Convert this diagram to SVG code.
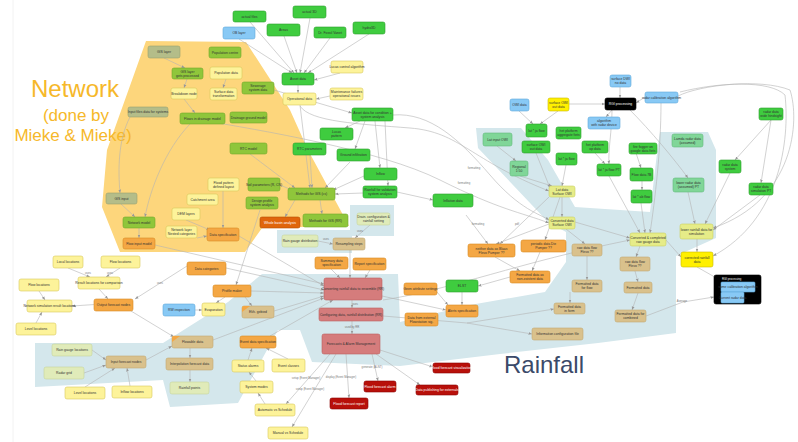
<svg xmlns="http://www.w3.org/2000/svg" width="798" height="442" viewBox="0 0 798 442">
<defs>
<marker id="a" markerWidth="4" markerHeight="4" refX="3.5" refY="2" orient="auto" markerUnits="userSpaceOnUse"><path d="M0,0.6 L3.5,2 L0,3.4 z" fill="#999"/></marker>
<style>
text{font-family:"Liberation Sans",Arial,sans-serif;font-size:3.4px;fill:#333;text-anchor:middle}
.n rect{stroke-width:0.6}
.g rect{fill:#3fcc3f;stroke:#2b9e2b}
.b rect{fill:#88c9f5;stroke:#5ea8da}
.y rect{fill:#fdf39a;stroke:#d9c95c}
.Y rect{fill:#fff000;stroke:#c9bb00}
.o rect{fill:#f4a744;stroke:#d98b22}
.O rect{fill:#e0650c;stroke:#b54e00}
.t rect{fill:#d9c18c;stroke:#c2a972}
.p rect{fill:#d57c7c;stroke:#be6060}
.r rect{fill:#b8100a;stroke:#8a0000}
.l rect{fill:#e0ebb9;stroke:#c6d59c}
.v rect{fill:#8fc63b;stroke:#72a82a}
.q rect{fill:#b4bd89;stroke:#99a171}
.c rect{fill:#80d698;stroke:#63bb7d}
.h rect{fill:#e6ec88;stroke:#cbd262}
.k rect{fill:#000;stroke:#000}
.r text,.k text,.O text{fill:#fff}
#edges path{fill:none;stroke:#b3b3b3;stroke-width:0.6;marker-end:url(#a)}
.el{font-size:2.8px;fill:#777}
.big{font-family:"Liberation Sans",Arial,sans-serif;text-anchor:middle}
</style>
</defs>
<rect width="798" height="442" fill="#fff"/>
<line x1="13" y1="0" x2="13" y2="442" stroke="#f2f2f2" stroke-width="1"/>
<g id="regions">
<polygon points="146,41 246,42 290,110 308,150 349,226 262,228 245,252 120,252 102,207 107,150" fill="#fdd67c"/>
<polygon points="277,230 350,230 350,205 394,205 394,236 352,236 352,253 277,253" fill="#d4e7ec"/>
<polygon points="35,343 163,343 228,302 262,274 398,274 400,322 470,305 545,292 566,262 566,232 548,222 478,148 476,128 521,128 548,160 575,207 650,212 658,145 660,132 708,132 716,150 716,238 676,256 676,333 598,343 500,354 400,366 312,362 300,330 278,330 238,403 170,407 163,380 35,387" fill="#d4e7ec"/>
</g>
<g id="titles">
<text class="big" x="75" y="97" style="font-size:24px;fill:#f6b82a">Network</text>
<text class="big" x="76" y="121" style="font-size:17px;fill:#f6b82a">(done by</text>
<text class="big" x="73" y="141" style="font-size:17px;fill:#f6b82a">Mieke &amp; Mieke)</text>
<text class="big" x="544" y="373" style="font-size:24px;fill:#3b4a69">Rainfall</text>
</g>
<g id="edges">
<path d="M239,39 L292,73"/><path d="M250,22 L294,73"/><path d="M284,36 L297,73"/><path d="M310,18 L300,73"/><path d="M330,38 L304,73"/><path d="M369,34 L308,73"/>
<path d="M340,73 L314,80"/><path d="M298,85 L298,93"/><path d="M330,96 L316,99"/>
<path d="M300,105 L310,188"/><path d="M274,90 L352,113"/>
<path d="M360,121 L345,128"/><path d="M365,121 L355,149"/><path d="M375,121 L380,168"/><path d="M385,121 L388,186"/>
<path d="M393,115 C430,112 460,140 490,175 S540,214 549,220"/>
<path d="M300,106 C310,122 360,124 410,128 S470,160 549,191"/>
<path d="M200,120 C260,130 380,150 440,180 S520,212 549,223"/>
<path d="M310,155 L312,188"/><path d="M350,162 L325,188"/><path d="M364,176 L333,190"/><path d="M363,193 L335,194"/><path d="M280,185 L292,190"/><path d="M250,154 L295,188"/>
<path d="M295,200 L285,217"/><path d="M320,200 L322,214"/>
<path d="M164,58 L185,68"/><path d="M187,79 L184,88"/><path d="M184,99 L195,113"/><path d="M226,79 L223,88"/>
<path d="M130,117 C118,140 118,170 120,193"/><path d="M121,204 L135,217"/><path d="M139,228 L139,238"/>
<path d="M190,124 C165,150 150,190 145,217"/>
<path d="M223,191 L223,228"/><path d="M186,220 L210,230"/><path d="M197,238 L207,236"/>
<path d="M239,236 L324,286"/><path d="M226,268 L324,290"/><path d="M251,291 L324,293"/><path d="M155,245 L324,284"/>
<path d="M260,210 L236,285"/>
<path d="M225,297 L216,303"/><path d="M245,297 L252,306"/>
<path d="M274,311 L324,296"/>
<path d="M318,241 L333,244"/><path d="M370,225 L355,238"/><path d="M350,250 L350,278"/>
<path d="M331,269 L340,278"/><path d="M370,270 L365,278"/>
<path d="M352,300 L352,308"/><path d="M352,321 L352,334"/>
<path d="M372,354 L378,381"/><path d="M346,354 L349,398"/><path d="M330,354 L286,404"/><path d="M336,354 L292,427"/>
<path d="M380,350 L433,367"/><path d="M376,354 L420,385"/>
<path d="M270,336 L333,300"/><path d="M248,360 L252,348"/><path d="M288,359 L266,348"/><path d="M256,381 L249,372"/><path d="M265,404 L258,393"/>
<path d="M382,296 L446,310"/><path d="M437,292 L448,305"/><path d="M462,292 L462,305"/>
<path d="M383,316 L467,323 L554,309"/><path d="M467,323 L532,334"/>
<path d="M383,300 C450,290 520,262 630,240"/>
<path d="M510,277 L478,286"/><path d="M466,215 L488,244"/><path d="M549,197 L500,244"/><path d="M549,224 L496,244"/>
<path d="M560,197 L545,240"/><path d="M540,252 L532,271"/><path d="M495,257 L520,271"/>
<path d="M566,229 L585,244"/><path d="M587,256 L587,280"/><path d="M570,292 L570,303"/>
<path d="M575,222 L630,238"/>
<path d="M640,246 L636,257"/><path d="M635,271 L638,282"/><path d="M638,293 L632,310"/><path d="M646,316 L683,302 L714,297"/>
<path d="M133,302 L72,306"/><path d="M99,289 L108,299"/><path d="M36,323 L42,312"/><path d="M39,291 L45,300"/>
<path d="M68,268 L90,277"/><path d="M120,268 L106,277"/>
<path d="M131,311 L174,337"/><path d="M190,348 L190,358"/><path d="M190,370 L190,382"/>
<path d="M187,266 L135,299"/><path d="M213,340 L324,298"/>
<path d="M92,350 L106,360"/><path d="M84,373 L106,365"/><path d="M85,387 L115,368"/><path d="M130,386 L127,368"/><path d="M146,360 L172,346"/>
<path d="M195,310 L202,310"/>
<path d="M397,192 L433,200"/>
<path d="M519,111 L533,124"/><path d="M558,111 L540,124"/><path d="M569,104 L605,104"/>
<path d="M620,87 L620,98"/><path d="M645,97 L636,103"/><path d="M612,110 L606,117"/>
<path d="M612,110 C612,130 608,150 609,164"/><path d="M630,110 C650,130 675,160 688,178"/>
<path d="M661,103 C661,150 655,200 650,233"/>
<path d="M678,96 C700,85 760,78 790,90 C800,120 795,200 713,228"/>
<path d="M680,92 C720,82 770,80 785,95 C790,140 780,220 713,256"/>
<path d="M609,176 L640,233"/><path d="M641,203 L645,233"/><path d="M688,192 L695,224"/><path d="M730,173 L705,224"/><path d="M760,195 L713,230"/>
<path d="M771,120 L735,160"/><path d="M771,120 L761,183"/><path d="M697,239 L697,252"/><path d="M666,240 L681,257"/><path d="M697,267 L720,280"/>
<path d="M636,153 L641,168"/><path d="M595,153 L605,164"/><path d="M642,181 L642,190"/>
<path d="M497,146 L516,161"/><path d="M520,176 L552,186"/><path d="M562,197 L562,217"/>
<path d="M536,153 L550,188"/><path d="M566,165 L562,186"/>
</g>
<g id="edge-labels">
<text class="el" x="474" y="169">formatting</text>
<text class="el" x="464" y="184">formatting</text>
<text class="el" x="478" y="225">formatting</text>
<text class="el" x="517" y="225">pdf</text>
<text class="el" x="355" y="305">uses</text>
<text class="el" x="352" y="328">used by RR</text>
<text class="el" x="372" y="368">generate (ALNT)</text>
<text class="el" x="341" y="378">display (Event Manager)</text>
<text class="el" x="306" y="379">setup (Event Manager)</text>
<text class="el" x="310" y="390">setup (Event Manager)</text>
<text class="el" x="326" y="239.5">uses</text>
<text class="el" x="360" y="232">uses</text>
<text class="el" x="682" y="302">Average</text>
<text class="el" x="88" y="274">uses</text>
<text class="el" x="110" y="274">uses</text>
<text class="el" x="160" y="284">uses</text>
</g>
<g id="n1" class="n g"><rect x="233" y="11" width="33" height="11" rx="2"/><text x="249.5" y="17.8">actual files</text></g>
<g id="n2" class="n g"><rect x="293" y="6" width="33" height="12" rx="2"/><text x="309.5" y="13.3">actual 3D</text></g>
<g id="n3" class="n b"><rect x="223" y="27" width="32" height="12" rx="2"/><text x="239" y="34.3">OB layer</text></g>
<g id="n4" class="n g"><rect x="267" y="24" width="33" height="12" rx="2"/><text x="283.5" y="31.3">Areas</text></g>
<g id="n5" class="n g"><rect x="314" y="27" width="32" height="11" rx="2"/><text x="330" y="33.8">Dr. Fossil Vanet</text></g>
<g id="n6" class="n g"><rect x="353" y="22" width="32" height="12" rx="2"/><text x="369" y="29.3">hydro3D</text></g>
<g id="n7" class="n g"><rect x="282" y="73" width="32" height="12" rx="2"/><text x="298" y="80.3">Asset data</text></g>
<g id="n8" class="n y"><rect x="331" y="61" width="32" height="12" rx="2"/><text x="347" y="68.3">Lucas control algorithm</text></g>
<g id="n9" class="n y"><rect x="283" y="93" width="33" height="12" rx="2"/><text x="299.5" y="100.3">Operational data</text></g>
<g id="n10" class="n y"><rect x="330" y="88" width="33" height="12" rx="2"/><text x="346.5" y="93.4">Maintenance failures</text><text x="346.5" y="97.4">operational issues</text></g>
<g id="n11" class="n g"><rect x="352" y="108" width="41" height="13" rx="2"/><text x="372.5" y="113.9">Asset data for condition +</text><text x="372.5" y="117.9">system analysis</text></g>
<g id="n12" class="n g"><rect x="320" y="128" width="33" height="12" rx="2"/><text x="336.5" y="133.4">Lucas</text><text x="336.5" y="137.4">pattern</text></g>
<g id="n13" class="n g"><rect x="293" y="143" width="33" height="12" rx="2"/><text x="309.5" y="150.3">RTC parameters</text></g>
<g id="n14" class="n g"><rect x="337" y="149" width="33" height="12" rx="2"/><text x="353.5" y="156.3">Ground infiltration</text></g>
<g id="n15" class="n g"><rect x="364" y="168" width="33" height="12" rx="2"/><text x="380.5" y="175.3">Inflow</text></g>
<g id="n16" class="n g"><rect x="363" y="186" width="34" height="12" rx="2"/><text x="380" y="191.4">Rainfall for validation</text><text x="380" y="195.4">system analysis</text></g>
<g id="n17" class="n q"><rect x="148" y="46" width="32" height="12" rx="2"/><text x="164" y="53.3">GIS layer</text></g>
<g id="n18" class="n v"><rect x="209" y="47" width="32" height="11" rx="2"/><text x="225" y="53.8">Population centre</text></g>
<g id="n19" class="n v"><rect x="172" y="68" width="31" height="11" rx="2"/><text x="187.5" y="72.6">GIS layer</text><text x="187.5" y="76.6">gets processed</text></g>
<g id="n20" class="n y"><rect x="210" y="67" width="32" height="12" rx="2"/><text x="226" y="74.3">Population data</text></g>
<g id="n21" class="n y"><rect x="171" y="88" width="26" height="11" rx="2"/><text x="184" y="94.8">Breakdown node</text></g>
<g id="n22" class="n y"><rect x="210" y="88" width="27" height="12" rx="2"/><text x="223.5" y="93.4">Surface data</text><text x="223.5" y="97.4">transformation</text></g>
<g id="n23" class="n v"><rect x="242" y="82" width="32" height="12" rx="2"/><text x="258" y="87.4">Sewerage</text><text x="258" y="91.4">system data</text></g>
<g id="n24" class="n q"><rect x="128" y="107" width="40" height="10" rx="2"/><text x="148" y="113.3">Input files data for systems</text></g>
<g id="n25" class="n v"><rect x="180" y="113" width="45" height="11" rx="2"/><text x="202.5" y="119.8">Flows in drainage model</text></g>
<g id="n26" class="n v"><rect x="230" y="112" width="37" height="11" rx="2"/><text x="248.5" y="118.8">Drainage ground model</text></g>
<g id="n27" class="n v"><rect x="230" y="143" width="37" height="11" rx="2"/><text x="248.5" y="149.8">RTC model</text></g>
<g id="n28" class="n y"><rect x="187" y="194" width="31" height="11" rx="2"/><text x="202.5" y="200.8">Catchment area</text></g>
<g id="n29" class="n y"><rect x="172" y="208" width="28" height="12" rx="2"/><text x="186" y="215.3">DEM layers</text></g>
<g id="n30" class="n y"><rect x="166" y="226" width="31" height="12" rx="2"/><text x="181.5" y="231.4">Network layer</text><text x="181.5" y="235.4">Nested categories</text></g>
<g id="n31" class="n y"><rect x="208" y="178" width="31" height="13" rx="2"/><text x="223.5" y="183.9">Flood pattern</text><text x="223.5" y="187.9">defined layout</text></g>
<g id="n32" class="n v"><rect x="248" y="178" width="32" height="13" rx="2"/><text x="264" y="185.8">Soil parameters (R, CN)</text></g>
<g id="n33" class="n v"><rect x="288" y="188" width="47" height="12" rx="2"/><text x="311.5" y="195.3">Methods for GIS (cs)</text></g>
<g id="n34" class="n v"><rect x="246" y="197" width="32" height="12" rx="2"/><text x="262" y="202.4">Design profile</text><text x="262" y="206.4">system analysis</text></g>
<g id="n35" class="n O"><rect x="260" y="217" width="40" height="11" rx="2"/><text x="280" y="223.8">Whole basin analysis</text></g>
<g id="n36" class="n v"><rect x="303" y="214" width="45" height="13" rx="2"/><text x="325.5" y="221.8">Methods for GIS (RR)</text></g>
<g id="n37" class="n o"><rect x="207" y="228" width="32" height="13" rx="2"/><text x="223" y="235.8">Data specification</text></g>
<g id="n38" class="n q"><rect x="106" y="193" width="31" height="11" rx="2"/><text x="121.5" y="199.8">GIS input</text></g>
<g id="n39" class="n v"><rect x="123" y="217" width="32" height="11" rx="2"/><text x="139" y="223.8">Network model</text></g>
<g id="n40" class="n o"><rect x="123" y="238" width="32" height="11" rx="2"/><text x="139" y="244.8">Flow input model</text></g>
<g id="n41" class="n l"><rect x="357" y="213" width="33" height="12" rx="2"/><text x="373.5" y="218.4">Drain. configuration &amp;</text><text x="373.5" y="222.4">rainfall setting</text></g>
<g id="n42" class="n l"><rect x="282" y="235" width="36" height="12" rx="2"/><text x="300" y="242.3">Rain gauge distribution</text></g>
<g id="n43" class="n t"><rect x="333" y="238" width="32" height="12" rx="2"/><text x="349" y="245.3">Resampling steps</text></g>
<g id="n44" class="n o"><rect x="315" y="257" width="33" height="12" rx="2"/><text x="331.5" y="262.4">Summary data</text><text x="331.5" y="266.4">specification</text></g>
<g id="n45" class="n o"><rect x="353" y="258" width="33" height="12" rx="2"/><text x="369.5" y="265.3">Report specification</text></g>
<g id="n46" class="n o"><rect x="187" y="262" width="39" height="13" rx="2"/><text x="206.5" y="269.8">Data categories</text></g>
<g id="n47" class="n o"><rect x="213" y="285" width="38" height="12" rx="2"/><text x="232" y="292.3">Profile maker</text></g>
<g id="n48" class="n p"><rect x="324" y="278" width="58" height="22" rx="2"/><text x="353" y="290.3">Converting rainfall data to ensemble (RR)</text></g>
<g id="n49" class="n p"><rect x="319" y="308" width="64" height="13" rx="2"/><text x="351" y="315.8">Configuring data, rainfall distribution (RR)</text></g>
<g id="n50" class="n p"><rect x="322" y="334" width="58" height="20" rx="2"/><text x="351" y="345.3">Forecasts &amp; Alarm Management</text></g>
<g id="n51" class="n r"><rect x="364" y="381" width="32" height="11" rx="2"/><text x="380" y="387.8">Flood forecast alarm</text></g>
<g id="n52" class="n r"><rect x="330" y="398" width="38" height="11" rx="2"/><text x="349" y="404.8">Flood forecast report</text></g>
<g id="n53" class="n r"><rect x="433" y="363" width="37" height="10" rx="2"/><text x="451.5" y="369.3">Flood forecast visualization</text></g>
<g id="n54" class="n r"><rect x="416" y="385" width="42" height="10" rx="2"/><text x="437" y="391.3">Data publishing for externals</text></g>
<g id="n55" class="n y"><rect x="202" y="303" width="23" height="13" rx="2"/><text x="213.5" y="310.8">Evaporation</text></g>
<g id="n56" class="n t"><rect x="242" y="306" width="32" height="12" rx="2"/><path d="M244,306 h6 l-8,6 v-4 a2,2 0 0 1 2,-2z" fill="#f4a744"/><text x="258" y="313.3">Ekh. gebied</text></g>
<g id="n57" class="n o"><rect x="240" y="336" width="36" height="12" rx="2"/><text x="258" y="343.3">Event data specification</text></g>
<g id="n58" class="n y"><rect x="232" y="360" width="32" height="12" rx="2"/><text x="248" y="367.3">Status alarms</text></g>
<g id="n59" class="n y"><rect x="272" y="359" width="33" height="13" rx="2"/><text x="288.5" y="366.8">Event classes</text></g>
<g id="n60" class="n y"><rect x="240" y="381" width="33" height="12" rx="2"/><text x="256.5" y="388.3">System modes</text></g>
<g id="n61" class="n y"><rect x="255" y="404" width="40" height="12" rx="2"/><text x="275" y="411.3">Automatic vs Schedule</text></g>
<g id="n62" class="n y"><rect x="268" y="427" width="40" height="12" rx="2"/><text x="288" y="434.3">Manual vs Schedule</text></g>
<g id="n63" class="n y"><rect x="53" y="256" width="30" height="12" rx="2"/><text x="68" y="263.3">Local locations</text></g>
<g id="n64" class="n y"><rect x="101" y="256" width="39" height="12" rx="2"/><text x="120.5" y="263.3">Flow locations</text></g>
<g id="n65" class="n y"><rect x="19" y="279" width="40" height="12" rx="2"/><text x="39" y="286.3">Flow locations</text></g>
<g id="n66" class="n y"><rect x="78" y="277" width="42" height="12" rx="2"/><text x="99" y="284.3">Result locations for comparison</text></g>
<g id="n67" class="n y"><rect x="27" y="300" width="45" height="12" rx="2"/><text x="49.5" y="307.3">Network simulation result locations</text></g>
<g id="n68" class="n o"><rect x="94" y="299" width="39" height="12" rx="2"/><text x="113.5" y="306.3">Output forecast nodes</text></g>
<g id="n69" class="n b"><rect x="163" y="304" width="32" height="12" rx="2"/><text x="179" y="311.3">RW inspection</text></g>
<g id="n70" class="n y"><rect x="16" y="323" width="40" height="12" rx="2"/><text x="36" y="330.3">Level locations</text></g>
<g id="n71" class="n l"><rect x="52" y="344" width="40" height="12" rx="2"/><text x="72" y="351.3">Rain gauge locations</text></g>
<g id="n72" class="n t"><rect x="106" y="356" width="40" height="12" rx="2"/><text x="126" y="363.3">Input forecast nodes</text></g>
<g id="n73" class="n l"><rect x="44" y="367" width="40" height="12" rx="2"/><text x="64" y="374.3">Radar grid</text></g>
<g id="n74" class="n y"><rect x="65" y="387" width="40" height="12" rx="2"/><text x="85" y="394.3">Level locations</text></g>
<g id="n75" class="n y"><rect x="112" y="386" width="40" height="12" rx="2"/><text x="132" y="393.3">Inflow locations</text></g>
<g id="n76" class="n t"><rect x="172" y="336" width="41" height="12" rx="2"/><path d="M174,336 h6 l-8,6 v-4 a2,2 0 0 1 2,-2z" fill="#f4a744"/><text x="192.5" y="343.3">Flowable data</text></g>
<g id="n77" class="n t"><rect x="166" y="358" width="47" height="12" rx="2"/><text x="189.5" y="365.3">Interpolation forecast data</text></g>
<g id="n78" class="n l"><rect x="170" y="382" width="39" height="12" rx="2"/><text x="189.5" y="389.3">Rainfall points</text></g>
<g id="n79" class="n o"><rect x="404" y="283" width="33" height="12" rx="2"/><text x="420.5" y="290.3">Geen attribute settings</text></g>
<g id="n80" class="n g"><rect x="446" y="280" width="32" height="12" rx="2"/><text x="462" y="287.3">ELST</text></g>
<g id="n81" class="n o"><rect x="446" y="305" width="32" height="12" rx="2"/><text x="462" y="312.3">Alerts specification</text></g>
<g id="n82" class="n o"><rect x="405" y="313" width="33" height="13" rx="2"/><text x="421.5" y="318.9">Data from external</text><text x="421.5" y="322.9">Flowstation sig.</text></g>
<g id="n83" class="n t"><rect x="532" y="328" width="51" height="12" rx="2"/><text x="557.5" y="335.3">Information configuration file</text></g>
<g id="n84" class="n t"><rect x="554" y="303" width="31" height="11" rx="2"/><text x="569.5" y="307.9">Formatted data</text><text x="569.5" y="311.9">in form</text></g>
<g id="n85" class="n o"><rect x="510" y="271" width="40" height="12" rx="2"/><text x="530" y="276.4">Formatted data as</text><text x="530" y="280.4">non-existent data</text></g>
<g id="n86" class="n t"><rect x="572" y="280" width="30" height="12" rx="2"/><text x="587" y="285.4">Formatted data</text><text x="587" y="289.4">for flow</text></g>
<g id="n87" class="n t"><rect x="572" y="244" width="30" height="12" rx="2"/><text x="587" y="249.4">raw data flow</text><text x="587" y="253.4">Flevo ??</text></g>
<g id="n88" class="n o"><rect x="468" y="244" width="47" height="13" rx="2"/><text x="491.5" y="249.9">neither data as Blaas</text><text x="491.5" y="253.9">Flevo Pumper ??</text></g>
<g id="n89" class="n o"><rect x="521" y="240" width="45" height="12" rx="2"/><text x="543.5" y="245.4">periodic data Die</text><text x="543.5" y="249.4">Pumper ??</text></g>
<g id="n90" class="n g"><rect x="433" y="194" width="40" height="13" rx="2"/><text x="453" y="201.8">Inflation data</text></g>
<g id="n91" class="n h"><rect x="549" y="186" width="26" height="11" rx="2"/><text x="562" y="190.6">Lat data</text><text x="562" y="194.6">Surface OWI</text></g>
<g id="n92" class="n h"><rect x="549" y="217" width="26" height="12" rx="2"/><text x="562" y="222.4">Converted data</text><text x="562" y="226.4">Surface OWI</text></g>
<g id="n93" class="n c"><rect x="510" y="161" width="18" height="15" rx="2"/><text x="519" y="167.9">Regional</text><text x="519" y="171.9">1:50</text></g>
<g id="n94" class="n c"><rect x="483" y="133" width="29" height="13" rx="2"/><text x="497.5" y="140.8">Lat input OWI</text></g>
<g id="n95" class="n b"><rect x="510" y="99" width="19" height="12" rx="2"/><text x="519.5" y="106.3">OWI data</text></g>
<g id="n96" class="n Y"><rect x="548" y="98" width="21" height="13" rx="2"/><text x="558.5" y="103.9">surface OWI</text><text x="558.5" y="107.9">out data</text></g>
<g id="n97" class="n g"><rect x="526" y="124" width="21" height="13" rx="2"/><text x="536.5" y="131.8">lat * ja flow</text></g>
<g id="n98" class="n g"><rect x="556" y="127" width="25" height="12" rx="2"/><text x="568.5" y="132.4">het platform</text><text x="568.5" y="136.4">aggregate fiets</text></g>
<g id="n99" class="n b"><rect x="588" y="117" width="32" height="12" rx="2"/><text x="604" y="122.4">algorithm</text><text x="604" y="126.4">with radar device</text></g>
<g id="n100" class="n g"><rect x="522" y="141" width="28" height="12" rx="2"/><text x="536" y="146.4">surface OWI</text><text x="536" y="150.4">out data</text></g>
<g id="n101" class="n g"><rect x="582" y="141" width="26" height="12" rx="2"/><text x="595" y="146.4">het platform</text><text x="595" y="150.4">op data</text></g>
<g id="n102" class="n g"><rect x="556" y="153" width="21" height="12" rx="2"/><text x="566.5" y="160.3">lat * ja flow</text></g>
<g id="n103" class="n b"><rect x="610" y="75" width="21" height="12" rx="2"/><text x="620.5" y="80.4">surface DWI</text><text x="620.5" y="84.4">no data</text></g>
<g id="n104" class="n k"><rect x="605" y="98" width="31" height="12" rx="2"/><text x="620.5" y="105.3">RGI processing</text></g>
<g id="n105" class="n b"><rect x="645" y="92" width="33" height="11" rx="2"/><text x="661.5" y="98.8">radar calibration algorithm</text></g>
<g id="n106" class="n g"><rect x="759" y="108" width="24" height="12" rx="2"/><text x="771" y="113.4">radar data</text><text x="771" y="117.4">wide hindsight</text></g>
<g id="n107" class="n g"><rect x="629" y="143" width="28" height="11" rx="2"/><text x="643" y="147.6">fire fogger on</text><text x="643" y="151.6">google data fiets</text></g>
<g id="n108" class="n c"><rect x="672" y="134" width="31" height="13" rx="2"/><text x="687.5" y="139.9">Lamda radar data</text><text x="687.5" y="143.9">(assumed)</text></g>
<g id="n109" class="n g"><rect x="597" y="164" width="24" height="12" rx="2"/><text x="609" y="171.3">lat * ja flow PT</text></g>
<g id="n110" class="n g"><rect x="630" y="168" width="23" height="13" rx="2"/><text x="641.5" y="175.8">Flow data 7B</text></g>
<g id="n111" class="n g"><rect x="631" y="190" width="21" height="13" rx="2"/><text x="641.5" y="197.8">lat * ab flow</text></g>
<g id="n112" class="n g"><rect x="719" y="160" width="22" height="13" rx="2"/><text x="730" y="165.9">radar data</text><text x="730" y="169.9">system</text></g>
<g id="n113" class="n c"><rect x="673" y="178" width="31" height="14" rx="2"/><text x="688.5" y="184.4">lower radar data</text><text x="688.5" y="188.4">(assumed) PT</text></g>
<g id="n114" class="n g"><rect x="749" y="183" width="24" height="12" rx="2"/><text x="761" y="188.4">radar data</text><text x="761" y="192.4">simulation PT</text></g>
<g id="n115" class="n h"><rect x="630" y="233" width="36" height="13" rx="2"/><text x="648" y="238.9">Converted &amp; completed</text><text x="648" y="242.9">raw gauge data</text></g>
<g id="n116" class="n h"><rect x="680" y="224" width="33" height="15" rx="2"/><text x="696.5" y="230.9">lower rainfall data for</text><text x="696.5" y="234.9">simulation</text></g>
<g id="n117" class="n Y"><rect x="681" y="252" width="32" height="15" rx="2"/><text x="697" y="258.9">corrected rainfall</text><text x="697" y="262.9">data</text></g>
<g id="n118" class="n t"><rect x="620" y="257" width="30" height="14" rx="2"/><text x="635" y="263.4">raw data flow</text><text x="635" y="267.4">Flevo ??</text></g>
<g id="n119" class="n t"><rect x="624" y="282" width="28" height="11" rx="2"/><text x="638" y="288.8">Formatted data</text></g>
<g id="n120" class="n t"><rect x="615" y="310" width="31" height="12" rx="2"/><text x="630.5" y="315.4">Formatted data for</text><text x="630.5" y="319.4">combined</text></g>
<g id="n121" class="n k"><rect x="714" y="275" width="47" height="29" rx="2"/><text x="722" y="279.8" style="text-anchor:start;font-size:2.8px">RGI processing</text></g>
<g id="n122" class="n b"><rect x="721" y="282" width="34" height="10" rx="1"/><text x="738" y="288.2">some calibration algorithm</text></g>
<g id="n123" class="n b"><rect x="721" y="292" width="23" height="11" rx="1"/><text x="732.5" y="298.8">Current radar data</text></g>
</svg>
